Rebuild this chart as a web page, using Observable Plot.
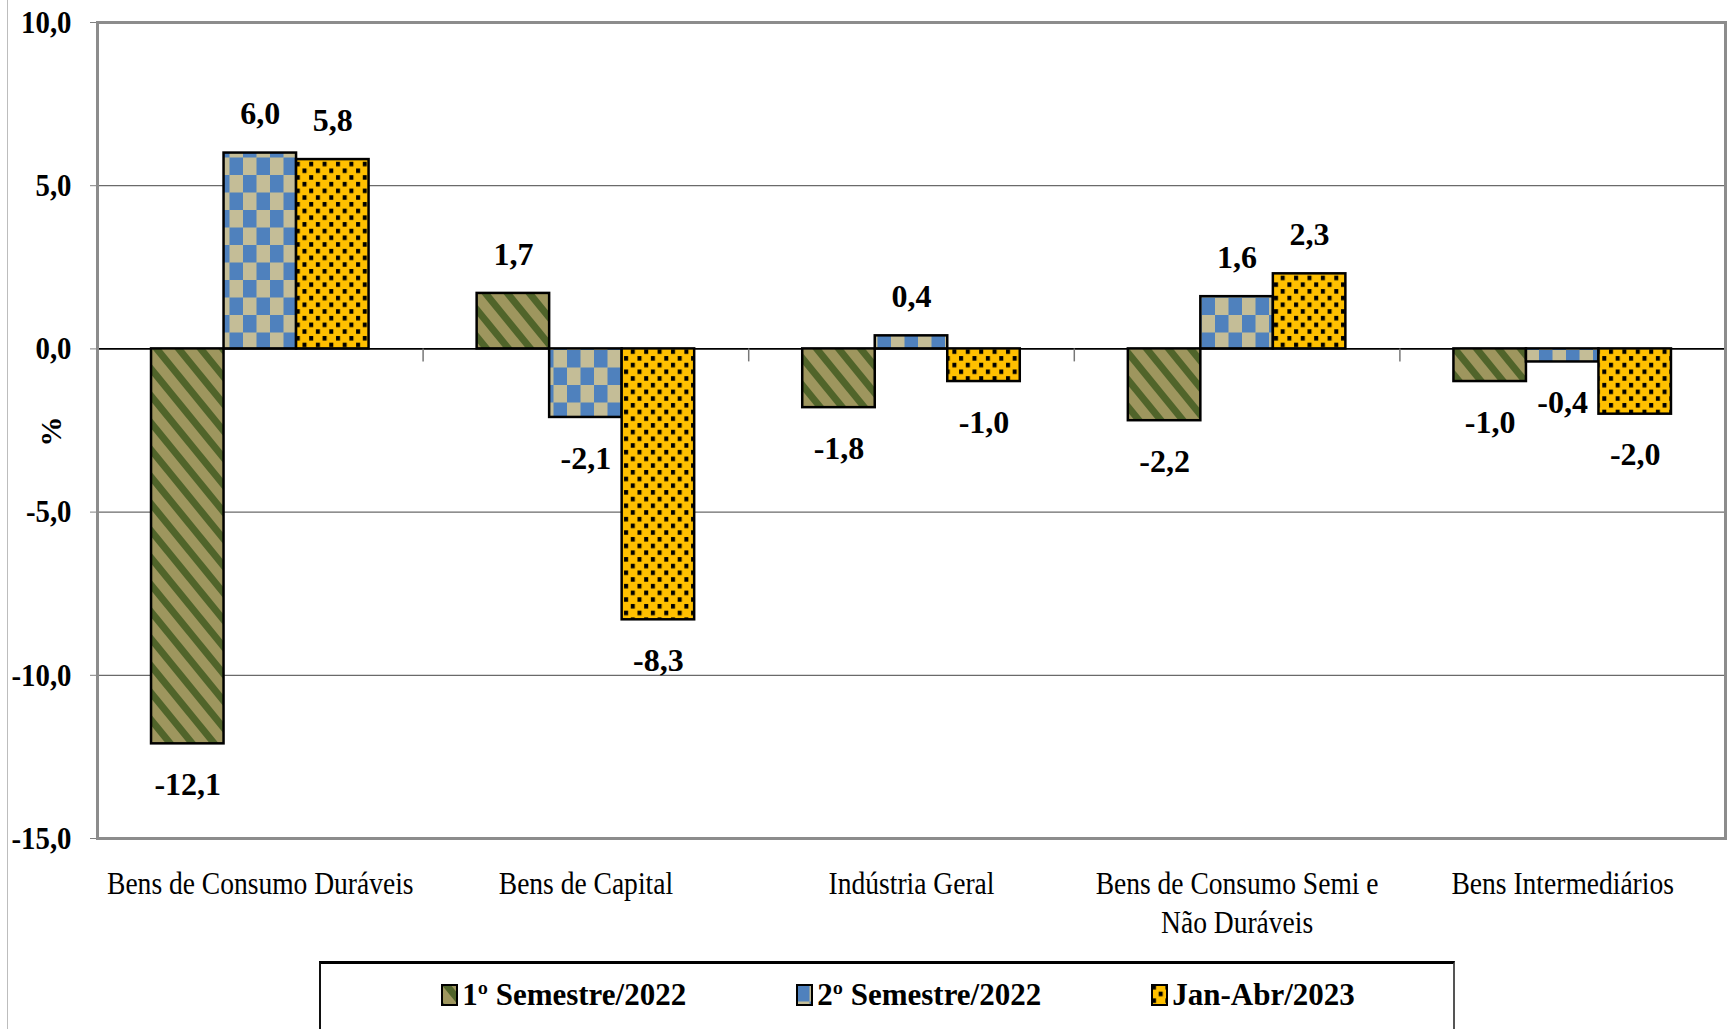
<!DOCTYPE html>
<html>
<head>
<meta charset="utf-8">
<script src="https://cdn.jsdelivr.net/npm/d3@7"></script>
<script src="https://cdn.jsdelivr.net/npm/@observablehq/plot@0.6"></script>
<style>
  html, body { margin: 0; padding: 0; background: #fff; }
  body { width: 1728px; height: 1029px; position: relative; overflow: hidden; font-family: "Liberation Serif", serif; }
  #chart { position: absolute; left: 0; top: 0; }
  #edge { position: absolute; left: 7px; top: 0; width: 1px; height: 1029px; background: #bdbdbd; z-index: 2; }
  #legend { position: absolute; left: 319px; top: 961px; width: 1136px; height: 110px;
            border-top: 3px solid #000; border-left: 2.5px solid #111; border-right: 2px solid #555;
            display: flex; justify-content: center; align-items: flex-start; gap: 110px; padding-top: 13px; padding-left: 22px; box-sizing: border-box; }
  .item { display: flex; align-items: center; font-weight: bold; font-size: 31px; white-space: nowrap; }
  .item svg { margin-right: 4px; }
</style>
</head>
<body>
<svg width="0" height="0" style="position:absolute">
  <defs>
    <pattern id="pStripe" patternUnits="userSpaceOnUse" width="22" height="27">
      <rect width="22" height="27" fill="#9E965E"></rect>
      <polygon points="0,0 9,0 31,27 22,27" fill="#50642A"></polygon>
      <polygon points="-22,0 -13,0 9,27 0,27" fill="#50642A"></polygon>
    </pattern>
    <pattern id="pCheck" patternUnits="userSpaceOnUse" width="27" height="35">
      <rect width="27" height="35" fill="#C4BD97"></rect>
      <rect x="0" y="0" width="13.5" height="17.5" fill="#4F81BD"></rect>
      <rect x="13.5" y="17.5" width="13.5" height="17.5" fill="#4F81BD"></rect>
    </pattern>
    <pattern id="pDots" patternUnits="userSpaceOnUse" width="13.4" height="13.4">
      <rect width="13.4" height="13.4" fill="#FFC000"></rect>
      <rect x="1" y="1" width="4" height="4.5" fill="#000"></rect>
      <rect x="7.7" y="7.7" width="4" height="4.5" fill="#000"></rect>
    </pattern>
  </defs>
</svg>
<div id="chart"></div>
<div id="edge"></div>
<div id="legend"></div>
<script>
// ---- data ----
const categories = ["Bens de Consumo Duráveis", "Bens de Capital", "Indústria Geral", "Bens de Consumo Semi e Não Duráveis", "Bens Intermediários"];
const categoryLabels = ["Bens de Consumo Duráveis", "Bens de Capital", "Indústria Geral", "Bens de Consumo Semi e\nNão Duráveis", "Bens Intermediários"];
const seriesNames = ["1º Semestre/2022", "2º Semestre/2022", "Jan-Abr/2023"];
const sem1_2022 = [-12.1, 1.7, -1.8, -2.2, -1.0];
const sem2_2022 = [6.0, -2.1, 0.4, 1.6, -0.4];
const janAbr2023 = [5.8, -8.3, -1.0, 2.3, -2.0];
const yTicks = [10, 5, 0, -5, -10, -15];
const gridValues = [5, -5, -10];
const yLabel = "%";

// ---- styles ----
const seriesFills = ["url(#pStripe)", "url(#pCheck)", "url(#pDots)"];
const barWidth = 0.2227; // fraction of a category slot
const fmt = v => v.toFixed(1).replace(".", ",");

const seriesValues = [sem1_2022, sem2_2022, janAbr2023];
const rows = categories.flatMap((c, ci) => seriesValues.map((vals, si) => ({
  category: c, ci, si, series: seriesNames[si], value: vals[ci]
})));
const boundaries = d3.range(1, categories.length).map(i => i - 0.5);

const barMarks = seriesNames.map((s, si) => Plot.rectY(rows.filter(d => d.si === si), {
  x1: d => d.ci + (d.si - 1.5) * barWidth,
  x2: d => d.ci + (d.si - 0.5) * barWidth,
  y1: 0, y2: "value",
  fill: seriesFills[si], stroke: "#000", strokeWidth: 2.5
}));

const xc = d => d.ci + (d.si - 1) * barWidth;

const chart = Plot.plot({
  width: 1728, height: 955,
  marginLeft: 97, marginTop: 22, marginRight: 3, marginBottom: 117,
  x: {domain: [-0.5, categories.length - 0.5]},
  y: {domain: [-15, 10]},
  style: {fontFamily: "Liberation Serif", fontSize: "32px", background: "white", color: "black", overflow: "visible"},
  marks: [
    Plot.gridY(gridValues, {stroke: "#6a6a6a", strokeOpacity: 1, strokeWidth: 1.2}),
    Plot.ruleY([0], {stroke: "#000", strokeWidth: 1.6}),
    Plot.ruleX(boundaries, {y1: 0, y2: 0, insetBottom: -13, stroke: "#777", strokeWidth: 1.5}),
    ...barMarks,
    Plot.text(rows.filter(d => d.value >= 0), {x: xc, y: "value", text: d => fmt(d.value), dy: -39, fontWeight: "bold", fontSize: 32}),
    Plot.text(rows.filter(d => d.value < 0), {x: xc, y: "value", text: d => fmt(d.value), dy: 41, fontWeight: "bold", fontSize: 32}),
    Plot.axisY({ticks: yTicks, tickFormat: fmt, tickSize: 7, tickPadding: 19, stroke: "#808080", fontWeight: "bold", fontSize: 32, label: null}),
    Plot.text([yLabel], {text: d => d, frameAnchor: "left", rotate: -90, dx: -46, dy: 16, fontWeight: "bold", fontSize: 30}),
    Plot.axisX({ticks: d3.range(categories.length), tickFormat: i => categoryLabels[i], tickSize: 0, tickPadding: 27, fontSize: 32, lineHeight: 1.24, label: null}),
    Plot.ruleX([-0.5], {stroke: "#4d4d4d", strokeWidth: 2}),
    Plot.frame({stroke: "#8c8c8c", strokeWidth: 3})
  ]
});
document.getElementById("chart").appendChild(chart);

// condense text like the original narrow font
function squeeze(nodes, factor) {
  nodes.forEach(n => {
    const tspans = n.querySelectorAll("tspan");
    const targets = tspans.length ? Array.from(tspans) : [n];
    targets.forEach(t => {
      const len = t.getComputedTextLength();
      if (len > 0) { t.setAttribute("textLength", len * factor); t.setAttribute("lengthAdjust", "spacingAndGlyphs"); }
    });
  });
}
squeeze(chart.querySelectorAll('g[aria-label="x-axis tick label"] text'), 0.86);
squeeze(chart.querySelectorAll('g[aria-label="y-axis tick label"] text'), 0.9);

// legend
const legend = document.getElementById("legend");
seriesNames.forEach((name, i) => {
  const item = document.createElement("div");
  item.className = "item";
  item.innerHTML = `<svg width="17" height="22"><rect x="1" y="1" width="15" height="20" fill="${seriesFills[i]}" stroke="#000" stroke-width="2"></rect></svg><span>${name}</span>`;
  legend.appendChild(item);
});
</script>
</body>
</html>
